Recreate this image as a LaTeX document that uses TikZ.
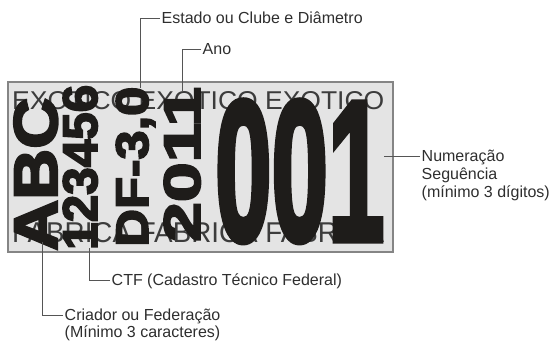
\documentclass[tikz,border=0pt]{standalone}
\usepackage{fontspec}
\setmainfont{Liberation Sans}
\newfontfamily\grossa{Liberation Sans Bold}[FakeBold=3.5]
\usepackage{graphicx}
\usetikzlibrary{positioning}
\definecolor{placa}{HTML}{E4E4E4}
\definecolor{borda}{HTML}{858585}
\definecolor{tinta}{HTML}{1E1C1A}
\definecolor{cinza}{HTML}{3C3C3C}
\definecolor{fio}{HTML}{555555}
\definecolor{rotulo}{HTML}{2E2E2E}

\begin{document}
\begin{tikzpicture}[x=1bp,y=-1bp,
    rotulo/.style={inner sep=0pt, inner xsep=1.5bp, text=rotulo, anchor=west,
      font=\fontsize{16bp}{18bp}\selectfont, text height=11.5bp, text depth=0pt},
    fio/.style={draw=fio, line width=0.9bp},
    marca/.style={inner sep=0pt, text=tinta, font=\grossa, anchor=base west},
    fundo/.style={inner sep=0pt, text=cinza, anchor=base west}]
    \useasboundingbox (0,0) rectangle (552,345);
    % placa
    \draw[draw=borda, fill=placa, line width=1.4bp] (8,82) rectangle (393,252);
    \node[fundo] (exotico) at (12,109) {\resizebox{372bp}{18bp}{EXOTICO EXOTICO EXOTICO}};
    \node[fundo] (fabrica) at (12,242) {\resizebox{372bp}{20bp}{FABRICA FABRICA FABRICA}};
    \node[marca, rotate=90] (criador) at (57,251) {\resizebox{153bp}{43bp}{ABC}};
    \node[marca, rotate=90] (ctf) at (97,250) {\resizebox{165bp}{34bp}{123456}};
    \node[marca, rotate=90] (estado) at (148,247) {\resizebox{160bp}{32bp}{DF-3,0}};
    \node[marca, rotate=90] (ano) at (200,242) {\resizebox{155bp}{36bp}{2011}};
    \node[marca] (numero) at (215,240) {\resizebox{169bp}{139bp}{001}};

    % rotulos
    \node[rotulo] (lestado) at (160,18) {Estado ou Clube e Diâmetro};
    \node[rotulo] (lano) at (201,49) {Ano};
    \node[rotulo] (lnumero) at (420,156) {Numeração};
    \node[rotulo] (lnumero2) at (420,174) {Seguência};
    \node[rotulo] (lnumero3) at (420,192) {(mínimo 3 dígitos)};
    \node[rotulo] (lctf) at (110,280) {CTF (Cadastro Técnico Federal)};
    \node[rotulo] (lcriador) at (63,315) {Criador ou Federação};
    \node[rotulo] (lcriador2) at (63,332) {(Mínimo 3 caracteres)};

    \coordinate (pestado) at (140,88);
    \coordinate (pano) at (182,92);
    \coordinate (pnumero) at (384,156);
    \coordinate (pctf) at (89,248);
    \coordinate (pcriador) at (42,242);

    \draw[fio] (lestado.west) -| (pestado);
    \draw[fio] (lano.west) -| (pano);
    \draw[fio] (lnumero.west) -- (pnumero);
    \draw[fio] (lctf.west) -| (pctf);
    \draw[fio] (lcriador.west) -| (pcriador);
\end{tikzpicture}
\end{document}
